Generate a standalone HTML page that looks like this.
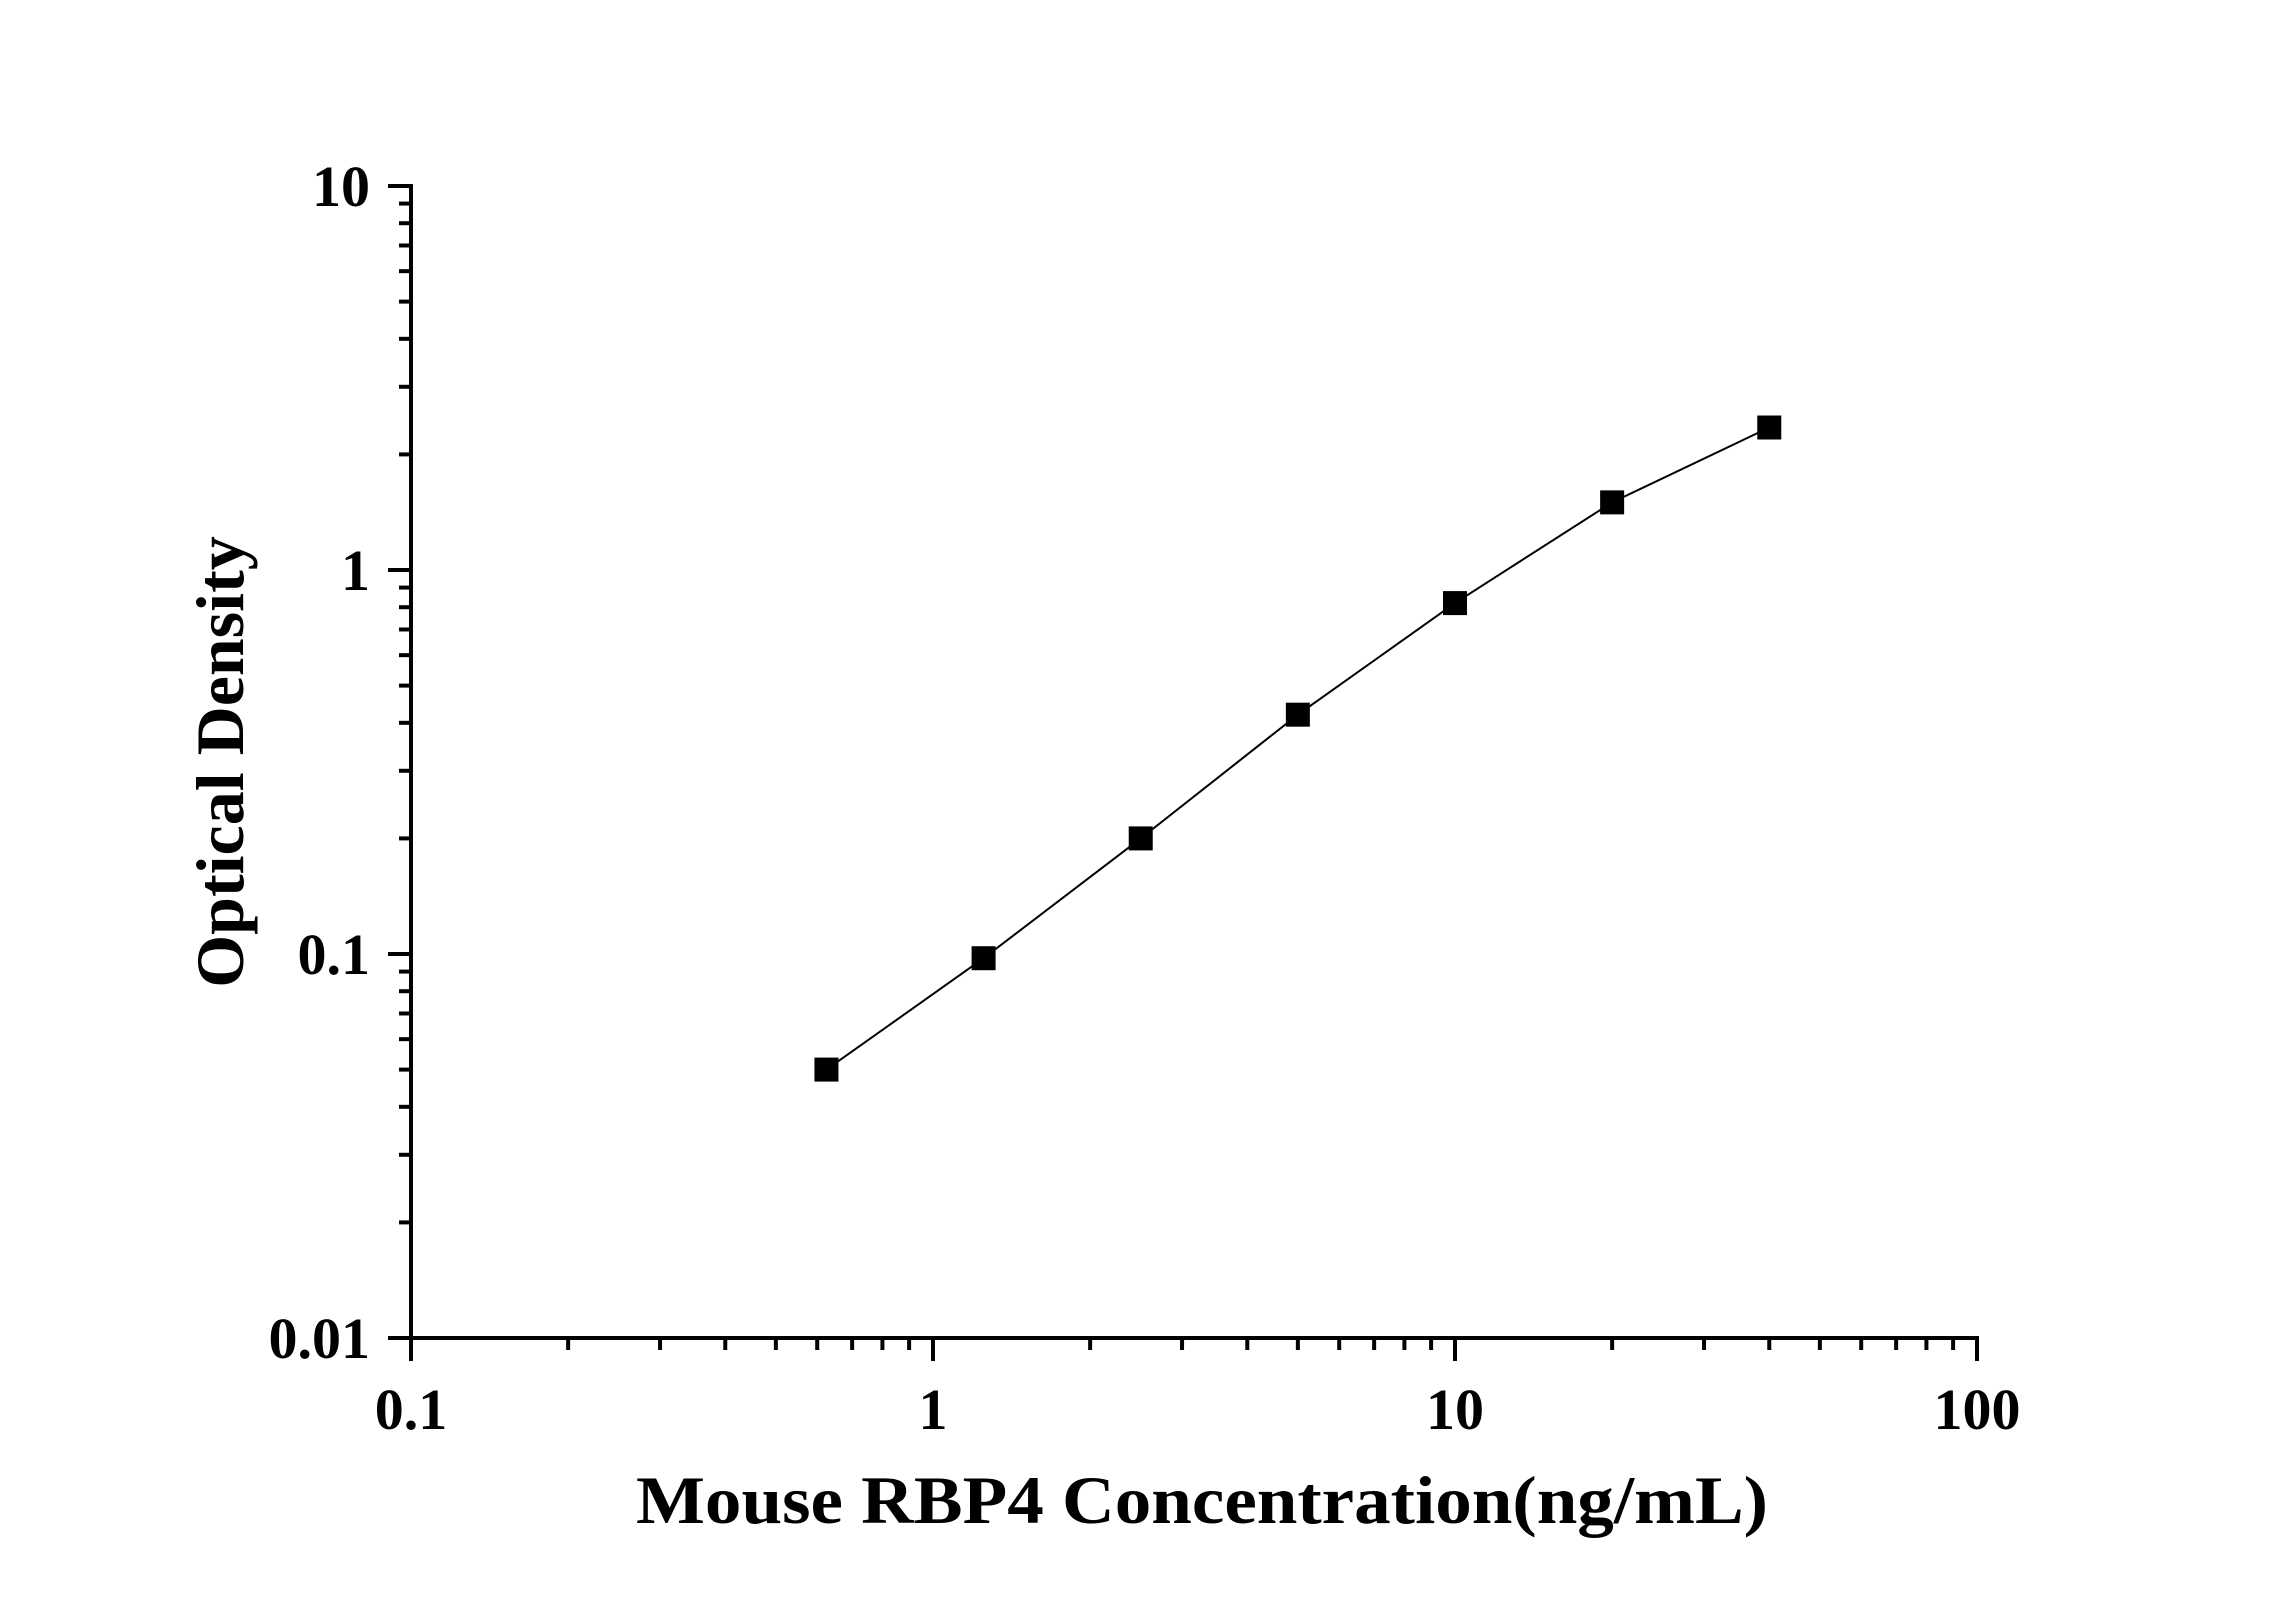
<!DOCTYPE html>
<html><head><meta charset="utf-8"><style>
html,body{margin:0;padding:0;background:#fff}
svg{display:block}
text{font-family:"Liberation Serif",serif;font-weight:bold;fill:#000}
</style></head><body>
<svg id="chart" width="2296" height="1604" viewBox="0 0 2296 1604" xmlns="http://www.w3.org/2000/svg">
<g id="axes"></g>
<g id="series"></g>
<text x="1202" y="1523" font-size="68" text-anchor="middle" textLength="1132" lengthAdjust="spacingAndGlyphs">Mouse RBP4 Concentration(ng/mL)</text>
<text transform="translate(221,762) rotate(-90)" font-size="68" text-anchor="middle" dy="22">Optical Density</text>
</svg>
<script>
const concentrations = [0.625, 1.25, 2.5, 5, 10, 20, 40];
const odValues = [0.050, 0.0975, 0.20, 0.42, 0.82, 1.50, 2.35];
const xTickValues = [0.1, 1, 10, 100];
const xTickLabels = ["0.1", "1", "10", "100"];
const yTickValues = [0.01, 0.1, 1, 10];
const yTickLabels = ["0.01", "0.1", "1", "10"];

const X0 = 411, X1 = 1977, Y0 = 1338, Y1 = 186;
const xs = v => X0 + (Math.log10(v) - Math.log10(0.1)) / 3 * (X1 - X0);
const ys = v => Y0 - (Math.log10(v) - Math.log10(0.01)) / 3 * (Y0 - Y1);
const NS = "http://www.w3.org/2000/svg";
const axes = document.getElementById('axes');
const series = document.getElementById('series');
function mk(tag, attrs, parent){const e=document.createElementNS(NS,tag);for(const k in attrs)e.setAttribute(k,attrs[k]);parent.appendChild(e);return e;}

let ax = mk('line',{x1:X0,y1:Y0,x2:X1+2,y2:Y0,stroke:'#000','stroke-width':4},axes);


let ay = mk('line',{x1:X0,y1:Y0+2,x2:X0,y2:Y1-2,stroke:'#000','stroke-width':4},axes);



// x ticks
for (let d = 0; d < 3; d++) {
  const base = Math.pow(10, d - 1);
  for (let m = 2; m <= 9; m++) {
    const x = xs(base * m);
    const t = mk('line',{x1:x,y1:Y0,x2:x,y2:Y0+12,stroke:'#000','stroke-width':4},axes);
    
    
  }
}
xTickValues.forEach((v,i)=>{
  const x = xs(v);
  const t = mk('line',{x1:x,y1:Y0,x2:x,y2:Y0+23,stroke:'#000','stroke-width':4},axes);
  
  
  const l = mk('text',{x:x,y:1429,'font-size':58,'text-anchor':'middle'},axes);
  l.textContent = xTickLabels[i];
  
  
});
// y ticks
for (let d = 0; d < 3; d++) {
  const base = Math.pow(10, d - 2);
  for (let m = 2; m <= 9; m++) {
    const y = ys(base * m);
    const t = mk('line',{x1:X0,y1:y,x2:X0-12,y2:y,stroke:'#000','stroke-width':4},axes);
    
    
  }
}
yTickValues.forEach((v,i)=>{
  const y = ys(v);
  const t = mk('line',{x1:X0,y1:y,x2:X0-23,y2:y,stroke:'#000','stroke-width':4},axes);
  
  
  const l = mk('text',{x:370,y:y+20,'font-size':58,'text-anchor':'end'},axes);
  l.textContent = yTickLabels[i];
  
  
});

// line and markers
const pts = concentrations.map((c,i)=>xs(c)+','+ys(odValues[i])).join(' ');
const pl = mk('polyline',{points:pts,fill:'none',stroke:'#000','stroke-width':2},series);


concentrations.forEach((c,i)=>{
  const s = 24;
  const r = mk('rect',{x:xs(c)-s/2,y:ys(odValues[i])-s/2,width:s,height:s,fill:'#000'},series);
  
  
});
</script>
</body></html>
